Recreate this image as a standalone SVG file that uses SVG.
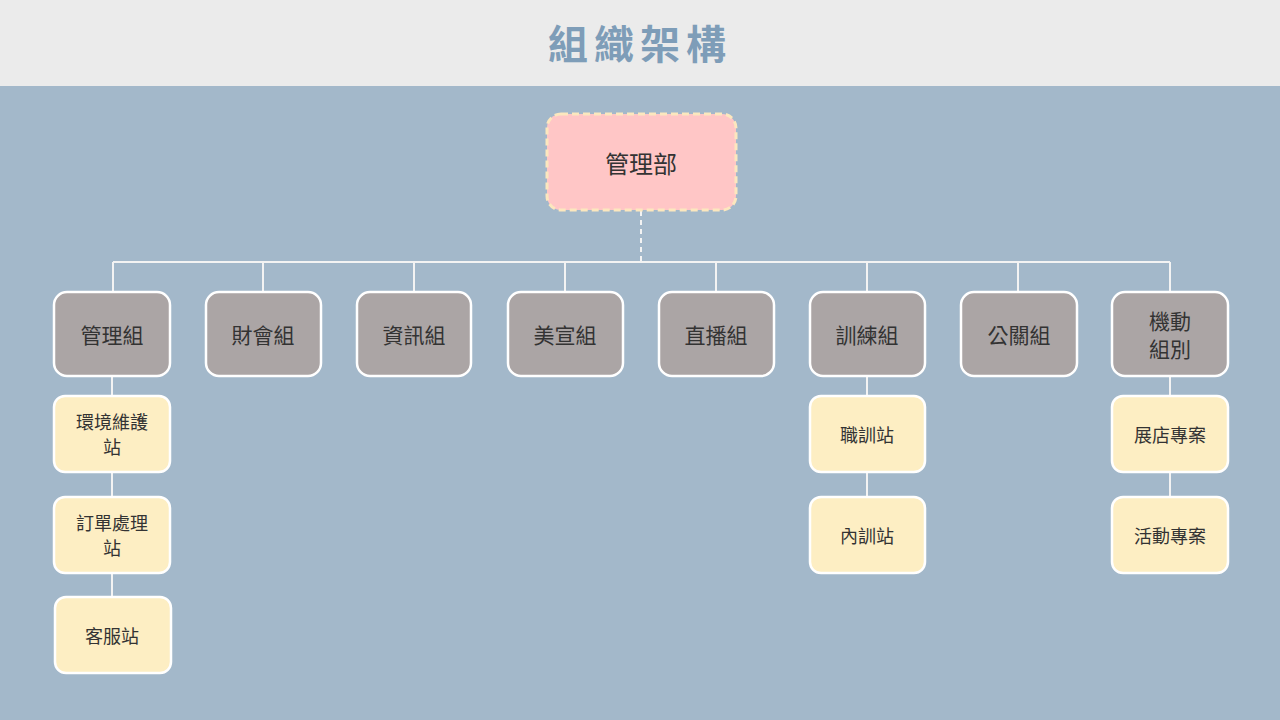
<svg xmlns="http://www.w3.org/2000/svg" width="1280" height="720" viewBox="0 0 1280 720">
<style>
text{font-family:"Noto Sans CJK TC","Noto Sans CJK SC",sans-serif;text-anchor:middle;dominant-baseline:central;fill:#333}
.g rect{fill:#ABA5A5;stroke:#fff;stroke-width:2.5}
.g text{font-size:21px}
.y rect{fill:#FDEEC3;stroke:#fff;stroke-width:2.5}
.y text{font-size:18px}
#conn line{stroke:#F3F3F3;stroke-width:2}
</style>
<rect width="1280" height="720" fill="#A3B8CA"/>
<rect width="1280" height="86" fill="#EBEBEB"/>
<text x="640" y="42" style="font-size:40px;font-weight:bold;fill:#7E9DB8;letter-spacing:6px">組織架構</text>
<g id="conn">
<line x1="641" y1="211" x2="641" y2="262" stroke-dasharray="5,4"/>
<line x1="113" y1="262" x2="1170" y2="262"/>
<line x1="113" y1="262" x2="113" y2="292"/><line x1="263" y1="262" x2="263" y2="292"/>
<line x1="414" y1="262" x2="414" y2="292"/><line x1="565" y1="262" x2="565" y2="292"/>
<line x1="716" y1="262" x2="716" y2="292"/><line x1="867" y1="262" x2="867" y2="292"/>
<line x1="1018" y1="262" x2="1018" y2="292"/><line x1="1170" y1="262" x2="1170" y2="292"/>
<line x1="112" y1="377" x2="112" y2="597"/>
<line x1="867" y1="377" x2="867" y2="497"/>
<line x1="1170" y1="377" x2="1170" y2="497"/>
</g>
<g id="root"><rect x="547" y="114" width="189" height="96" rx="14" fill="#FFC6C6" stroke="#FCE7BE" stroke-width="3" stroke-dasharray="7,4"/><text x="641" y="162" style="font-size:24px">管理部</text></g>
<g id="n1" class="g"><rect x="54" y="292" width="116" height="84" rx="13"/><text x="112" y="334">管理組</text></g>
<g id="n2" class="g"><rect x="206" y="292" width="115" height="84" rx="13"/><text x="263" y="334">財會組</text></g>
<g id="n3" class="g"><rect x="357" y="292" width="114" height="84" rx="13"/><text x="414" y="334">資訊組</text></g>
<g id="n4" class="g"><rect x="508" y="292" width="115" height="84" rx="13"/><text x="565" y="334">美宣組</text></g>
<g id="n5" class="g"><rect x="659" y="292" width="115" height="84" rx="13"/><text x="716" y="334">直播組</text></g>
<g id="n6" class="g"><rect x="810" y="292" width="115" height="84" rx="13"/><text x="867" y="334">訓練組</text></g>
<g id="n7" class="g"><rect x="961" y="292" width="116" height="84" rx="13"/><text x="1019" y="334">公關組</text></g>
<g id="n8" class="g"><rect x="1112" y="292" width="116" height="84" rx="13"/><text x="1170" y="320">機動</text><text x="1170" y="348">組別</text></g>
<g id="s1" class="y"><rect x="54" y="396" width="116" height="76" rx="11"/><text x="112" y="421">環境維護</text><text x="112" y="446">站</text></g>
<g id="s2" class="y"><rect x="54" y="497" width="116" height="76" rx="11"/><text x="112" y="522">訂單處理</text><text x="112" y="547">站</text></g>
<g id="s3" class="y"><rect x="55" y="597" width="116" height="76" rx="11"/><text x="112" y="635">客服站</text></g>
<g id="s4" class="y"><rect x="810" y="396" width="115" height="76" rx="11"/><text x="867" y="434">職訓站</text></g>
<g id="s5" class="y"><rect x="810" y="497" width="115" height="76" rx="11"/><text x="867" y="535">內訓站</text></g>
<g id="s6" class="y"><rect x="1112" y="396" width="116" height="76" rx="11"/><text x="1170" y="434">展店專案</text></g>
<g id="s7" class="y"><rect x="1112" y="497" width="116" height="76" rx="11"/><text x="1170" y="535">活動專案</text></g>
</svg>
